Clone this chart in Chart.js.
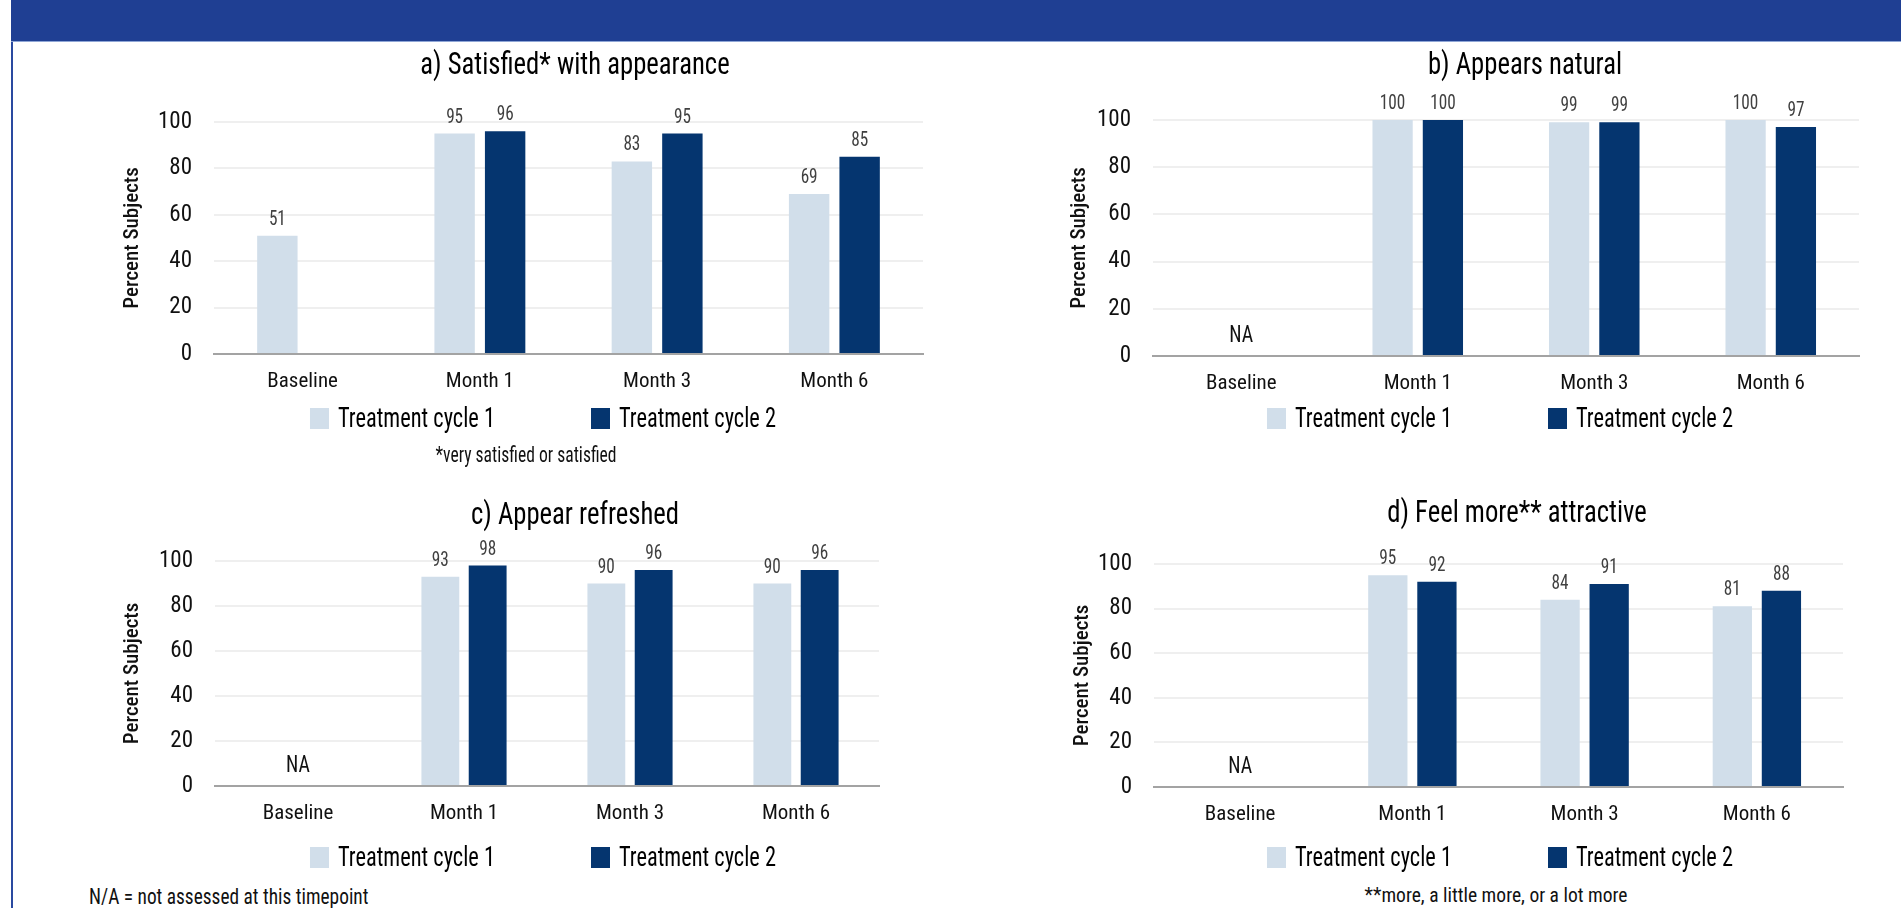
<!DOCTYPE html>
<html>
<head>
<meta charset="utf-8">
<title>Percent subjects by treatment cycle</title>
<script src="https://cdn.jsdelivr.net/npm/chart.js@4.4.1/dist/chart.umd.min.js"></script>
<style>
  html, body { margin: 0; padding: 0; background: #fff; overflow: hidden; }
  body { width: 1901px; height: 908px; position: relative;
         font-family: "Roboto Condensed", "Liberation Sans Narrow", "DejaVu Sans Condensed", sans-serif; }
  #frame { position: absolute; left: 11px; top: 0; width: 1890px; height: 908px;
           border-left: 2px solid #2a4aa0; box-sizing: border-box; }
  #header { position: absolute; left: 11px; top: 0; width: 1890px; height: 42px;
            background: #1f3f93; border-bottom: 1px solid #8fa6d6; box-sizing: border-box; }
  canvas { position: absolute; }
  .note { position: absolute; color: #111; white-space: nowrap; line-height: 22px; }
</style>
</head>
<body>
<div id="frame"></div>
<div id="header"></div>
<canvas id="chartA"></canvas>
<canvas id="chartB"></canvas>
<canvas id="chartC"></canvas>
<canvas id="chartD"></canvas>
<div class="note" style="left:526px; top:444px; font-size:22px; transform:translateX(-50%) scaleX(0.8);">*very satisfied or satisfied</div>
<div class="note" style="left:89px; top:886px; font-size:22px; transform-origin:0 50%; transform:scaleX(0.88);">N/A = not assessed at this timepoint</div>
<div class="note" style="left:1496px; top:884px; font-size:21px; transform:translateX(-50%) scaleX(0.93);">**more, a little more, or a lot more</div>
<script>
// categories and series
const categories = ['Baseline', 'Month 1', 'Month 3', 'Month 6']
const seriesNames = ['Treatment cycle 1', 'Treatment cycle 2']
const yTickValues = [0, 20, 40, 60, 80, 100]
const yAxisTitle = 'Percent Subjects'
const naLabel = 'NA'

const panelTitles = [
    'a) Satisfied* with appearance',
    'b) Appears natural',
    'c) Appear refreshed',
    'd) Feel more** attractive'
]

// values (null = not assessed)
const satisfiedCycle1 = [51, 95, 83, 69]
const satisfiedCycle2 = [null, 96, 95, 85]
const naturalCycle1 = [null, 100, 99, 100]
const naturalCycle2 = [null, 100, 99, 97]
const refreshedCycle1 = [null, 93, 90, 90]
const refreshedCycle2 = [null, 98, 96, 96]
const attractiveCycle1 = [null, 95, 84, 81]
const attractiveCycle2 = [null, 92, 91, 88]

const seriesColors = ['#d1deea', '#05356f']
const NARROW = '"Roboto Condensed", "Liberation Sans Narrow", "DejaVu Sans Condensed", sans-serif'
// the original face is narrower than Roboto Condensed, so drawn text is squeezed a bit
const SQUEEZE = 0.86
const LEGEND_SQUEEZE = 0.8

// page layout in page pixels: canvas box, plot area, y title centre, title centre, legend centre/top
const panels = [
    { id: 'chartA', title: panelTitles[0], values: [satisfiedCycle1, satisfiedCycle2],
      box: [20, 44, 990, 470], area: [214, 122, 923, 354], yTitleX: 133, titleAt: [575, 66], legendAt: [543, 408] },
    { id: 'chartB', title: panelTitles[1], values: [naturalCycle1, naturalCycle2],
      box: [1000, 44, 1901, 470], area: [1153, 120, 1859, 356], yTitleX: 1080, titleAt: [1525, 66], legendAt: [1500, 408] },
    { id: 'chartC', title: panelTitles[2], values: [refreshedCycle1, refreshedCycle2],
      box: [20, 470, 990, 880], area: [215, 561, 879, 786], yTitleX: 133, titleAt: [575, 516], legendAt: [543, 847] },
    { id: 'chartD', title: panelTitles[3], values: [attractiveCycle1, attractiveCycle2],
      box: [1000, 470, 1901, 880], area: [1154, 564, 1843, 787], yTitleX: 1083, titleAt: [1517, 514], legendAt: [1500, 847] }
]

function squeezedText(ctx, text, x, y, k) {
    ctx.save()
    ctx.translate(x, y)
    ctx.scale(k || SQUEEZE, 1)
    ctx.fillText(text, 0, 0)
    ctx.restore()
}

// value labels, NA marks, panel title and legend row
const panelDecor = {
    id: 'panelDecor',
    afterDraw(chart, args, opts) {
        const ctx = chart.ctx
        const xs = chart.scales.x
        const ys = chart.scales.y
        ctx.save()
        ctx.textAlign = 'center'

        ctx.font = '20px ' + NARROW
        ctx.fillStyle = '#404040'
        ctx.textBaseline = 'bottom'
        chart.data.datasets.forEach((ds, i) => {
            chart.getDatasetMeta(i).data.forEach((bar, j) => {
                if (ds.data[j] === null) return
                squeezedText(ctx, String(ds.data[j]), bar.x, bar.y - 6)
            })
        })

        ctx.font = '23px ' + NARROW
        ctx.fillStyle = '#111'
        ctx.textBaseline = 'middle'
        chart.data.labels.forEach((lab, j) => {
            if (chart.data.datasets.every(ds => ds.data[j] === null)) {
                squeezedText(ctx, naLabel, xs.getPixelForValue(j), ys.getPixelForValue(0) - 20)
            }
        })

        ctx.font = '31px ' + NARROW
        ctx.fillStyle = '#000'
        squeezedText(ctx, opts.title, opts.titleX, opts.titleY)

        ctx.font = '28px ' + NARROW
        const boxW = 19, boxH = 21, textGap = 9, itemGap = 96
        const items = chart.data.datasets.map(ds => ({
            text: ds.label, color: ds.backgroundColor, w: ctx.measureText(ds.label).width * LEGEND_SQUEEZE
        }))
        const total = items.reduce((s, it) => s + boxW + textGap + it.w, 0) + itemGap * (items.length - 1)
        let cx = opts.legendX - total / 2
        ctx.textAlign = 'left'
        items.forEach(it => {
            ctx.fillStyle = it.color
            ctx.fillRect(cx, opts.legendY, boxW, boxH)
            ctx.fillStyle = '#000'
            squeezedText(ctx, it.text, cx + boxW + textGap, opts.legendY + boxH / 2 + 1, LEGEND_SQUEEZE)
            cx += boxW + textGap + it.w + itemGap
        })
        ctx.restore()
    }
}

function makeChart(p) {
    const [bl, bt, br, bb] = p.box
    const [al, at, ar, ab] = p.area
    const xAxisH = 40
    const canvas = document.getElementById(p.id)
    canvas.width = br - bl
    canvas.height = bb - bt
    canvas.style.left = bl + 'px'
    canvas.style.top = bt + 'px'

    return new Chart(canvas, {
        type: 'bar',
        data: {
            labels: categories,
            datasets: p.values.map((vals, i) => ({
                label: seriesNames[i],
                data: vals,
                backgroundColor: seriesColors[i],
                categoryPercentage: 0.57,
                barPercentage: 0.8
            }))
        },
        options: {
            responsive: false,
            animation: false,
            devicePixelRatio: 1,
            layout: { padding: { left: 0, top: at - bt, right: br - ar, bottom: bb - ab - xAxisH } },
            plugins: {
                legend: { display: false },
                title: { display: false },
                tooltip: { enabled: false },
                panelDecor: {
                    title: p.title,
                    titleX: p.titleAt[0] - bl, titleY: p.titleAt[1] - bt,
                    legendX: p.legendAt[0] - bl, legendY: p.legendAt[1] - bt
                }
            },
            scales: {
                x: {
                    grid: { display: false },
                    border: { color: '#a3a3a3', width: 2 },
                    ticks: { color: '#111', font: { family: NARROW, size: 21 }, padding: 7 },
                    afterFit: s => { s.height = xAxisH }
                },
                y: {
                    min: 0,
                    max: 100,
                    afterBuildTicks: s => { s.ticks = yTickValues.map(v => ({ value: v })) },
                    grid: { color: '#efefef', lineWidth: 2, drawTicks: false },
                    border: { display: false },
                    ticks: { color: '#111', font: { family: NARROW, size: 23 }, padding: 22 },
                    title: {
                        display: true,
                        text: yAxisTitle,
                        color: '#111',
                        font: { family: NARROW, size: 21, weight: '500' },
                        padding: { top: p.yTitleX - bl - 12.6, bottom: 0 }
                    },
                    afterFit: s => { s.width = al - bl }
                }
            }
        },
        plugins: [panelDecor]
    })
}

panels.forEach(makeChart)
</script>
</body>
</html>
